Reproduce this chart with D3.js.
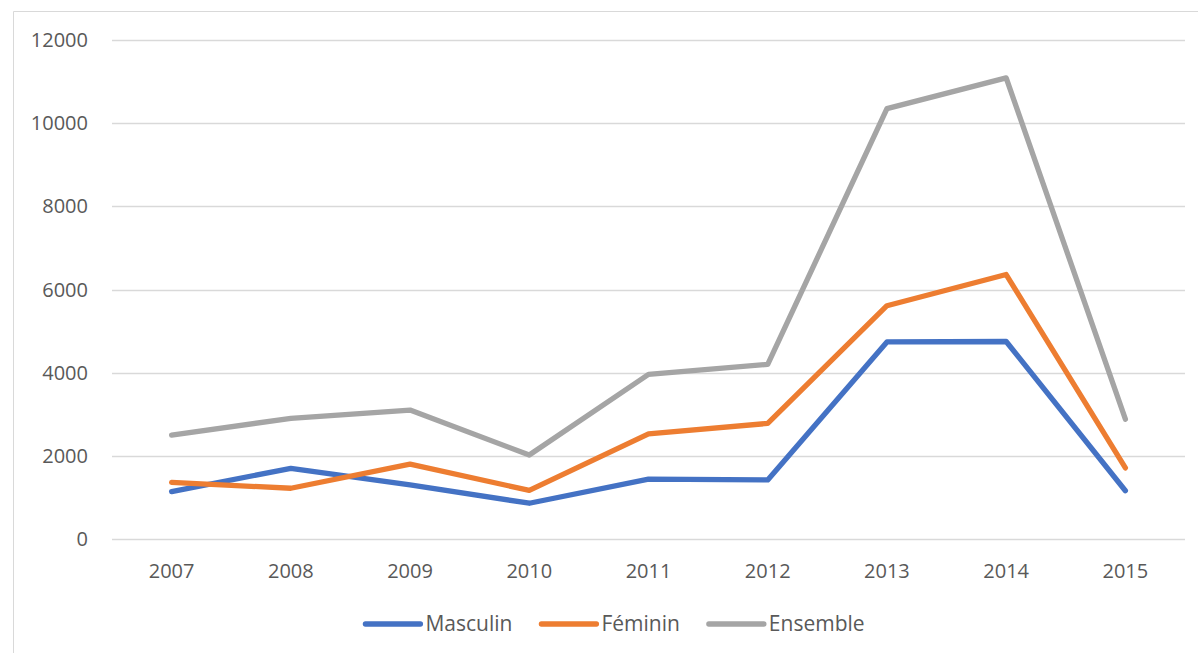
<!DOCTYPE html>
<html>
<head>
<meta charset="utf-8">
<script src="https://cdn.jsdelivr.net/npm/d3@7"></script>
<style>
  body { margin: 0; background: #fff; }
  text { font-family: "Open Sans", sans-serif; fill: #595959; }
</style>
</head>
<body>
<svg id="chart" width="1198" height="653"></svg>
<script>
// values
const years = ["2007", "2008", "2009", "2010", "2011", "2012", "2013", "2014", "2015"];
const masculin = [1140, 1700, 1300, 860, 1440, 1420, 4740, 4750, 1160];
const feminin = [1360, 1220, 1800, 1170, 2530, 2780, 5610, 6360, 1710];
const ensemble = [2500, 2900, 3100, 2020, 3960, 4200, 10350, 11090, 2880];
const yTicks = [0, 2000, 4000, 6000, 8000, 10000, 12000];

const series = [
  { name: "Masculin", values: masculin, color: "#4472C4" },
  { name: "Féminin", values: feminin, color: "#ED7D31" },
  { name: "Ensemble", values: ensemble, color: "#A5A5A5" }
];

const svg = d3.select("#chart");
const margin = { left: 112, right: 13, top: 40, bottom: 114 };
const W = 1198, H = 653;

// chart frame (top + left edges visible)
svg.append("path")
  .attr("d", `M13.5,653 V11.5 H1198`)
  .attr("fill", "none")
  .attr("stroke", "#D9D9D9")
  .attr("stroke-width", 1);

const x = d3.scaleBand()
  .domain(years)
  .range([margin.left, W - margin.right])
  .padding(0);

const y = d3.scaleLinear()
  .domain([0, 12000])
  .range([H - margin.bottom, margin.top]);

// gridlines
svg.append("g")
  .selectAll("line")
  .data(yTicks)
  .join("line")
  .attr("x1", margin.left)
  .attr("x2", W - margin.right)
  .attr("y1", (d) => Math.round(y(d)) + 0.5)
  .attr("y2", (d) => Math.round(y(d)) + 0.5)
  .attr("stroke", "#D9D9D9")
  .attr("stroke-width", 1.3);

// y labels
svg.append("g")
  .selectAll("text")
  .data(yTicks)
  .join("text")
  .attr("x", 88)
  .attr("y", (d) => y(d))
  .attr("dy", "0.35em")
  .attr("text-anchor", "end")
  .attr("font-size", 20)
  .text((d) => d);

// x labels
svg.append("g")
  .selectAll("text")
  .data(years)
  .join("text")
  .attr("x", (d) => x(d) + x.bandwidth() / 2)
  .attr("y", 578)
  .attr("text-anchor", "middle")
  .attr("font-size", 20)
  .text((d) => d);

// lines
const line = d3.line()
  .x((d, i) => x(years[i]) + x.bandwidth() / 2)
  .y((d) => y(d));

svg.append("g")
  .selectAll("path")
  .data(series)
  .join("path")
  .attr("d", (s) => line(s.values))
  .attr("fill", "none")
  .attr("stroke", (s) => s.color)
  .attr("stroke-width", 5.3)
  .attr("stroke-linejoin", "round")
  .attr("stroke-linecap", "round");

// legend
const legend = svg.append("g");
const items = legend.selectAll("g")
  .data(series)
  .join("g");
items.append("line")
  .attr("x1", 0).attr("x2", 55)
  .attr("y1", 0).attr("y2", 0)
  .attr("stroke", (s) => s.color)
  .attr("stroke-width", 5.3)
  .attr("stroke-linecap", "round");
items.append("text")
  .attr("x", 60)
  .attr("y", 0)
  .attr("dy", "0.35em")
  .attr("font-size", 21)
  .text((s) => s.name);

let cx = 0;
const gap = 29;
items.each(function () {
  const w = this.getBBox().width;
  d3.select(this).attr("transform", `translate(${cx},0)`);
  cx += w + gap;
});
const total = cx - gap;
legend.attr("transform", `translate(${(W - total) / 2 + 16},624)`);
</script>
</body>
</html>
